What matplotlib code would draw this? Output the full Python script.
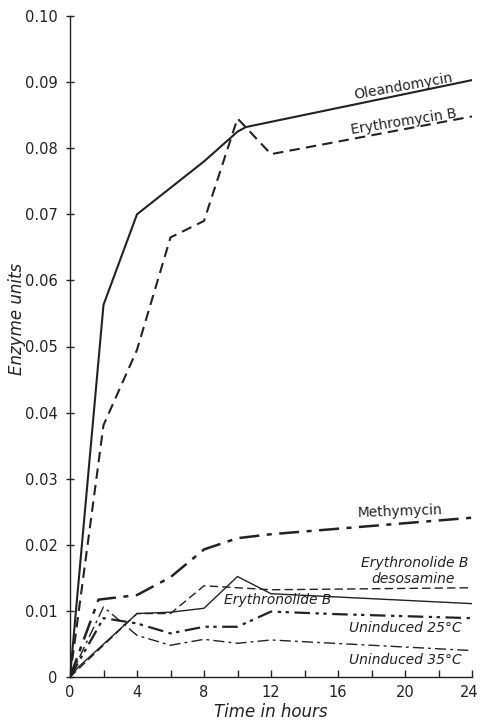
import matplotlib
matplotlib.use("Agg")
import matplotlib.pyplot as plt
import matplotlib.transforms as mtransforms

# ---- data ----
t_ole = [0, 2, 4, 8, 10, 10.5, 24]
ole = [0, 0.0563, 0.0700, 0.0780, 0.0825, 0.0832, 0.0903]

t_ery = [0, 2, 4, 6, 8, 10, 12, 24]
ery = [0, 0.0381, 0.0495, 0.0665, 0.0690, 0.0845, 0.0791, 0.0848]

t_met = [0, 1.7, 4, 6, 8, 10, 12, 24]
met = [0, 0.0117, 0.0124, 0.0151, 0.0193, 0.0210, 0.0216, 0.0241]

t_eb = [0, 0.5, 4, 6, 8, 10, 12, 24]
eb = [0, 0.0015, 0.0096, 0.0098, 0.0104, 0.0152, 0.0126, 0.0111]

t_ebd = [0, 0.5, 4, 6, 8, 12, 24]
ebd = [0, 0.0012, 0.0096, 0.0096, 0.0138, 0.0132, 0.0135]

t_u25 = [0, 2, 4, 6, 8, 10, 12, 16, 24]
u25 = [0, 0.0089, 0.0081, 0.0066, 0.0076, 0.0076, 0.0099, 0.0095, 0.0089]

t_u35 = [0, 2, 4, 6, 8, 10, 12, 24]
u35 = [0, 0.0106, 0.0063, 0.0048, 0.0057, 0.0051, 0.0056, 0.0040]

x_ticks = [0, 4, 8, 12, 16, 20, 24]
x_minor = [2, 6, 10, 14, 18, 22]
y_ticks = [0, 0.01, 0.02, 0.03, 0.04, 0.05, 0.06, 0.07, 0.08, 0.09, 0.10]
y_labels = ["0", "0.01", "0.02", "0.03", "0.04", "0.05", "0.06", "0.07", "0.08", "0.09", "0.10"]

plt.rcParams['font.family'] = ['DejaVu Sans']

fig = plt.figure(figsize=(4.8, 7.22), dpi=100)
ax = fig.add_axes([70/480, 1-677/722, (472-70)/480, (677-16)/722])

c = '#222222'
ax.plot(t_ole, ole, color=c, lw=1.5, ls='-')
ax.plot(t_ery, ery, color=c, lw=1.5, ls=(0, (5, 3)))
ax.plot(t_met, met, color=c, lw=1.8, ls=(0, (8, 3, 2, 3)))
ax.plot(t_eb, eb, color=c, lw=1.0, ls='-')
ax.plot(t_ebd, ebd, color=c, lw=1.0, ls=(0, (6, 3)))
ax.plot(t_u25, u25, color=c, lw=1.6, ls=(0, (7, 2.5, 1.5, 2, 1.5, 2.5)))
ax.plot(t_u35, u35, color=c, lw=1.0, ls=(0, (8, 3, 2, 3)))

ax.set_xlim(0, 24)
ax.set_ylim(0, 0.10)
ax.set_xticks(x_ticks)
ax.set_xticklabels([str(v) for v in x_ticks], fontsize=10.5, color=c)
ax.set_xticks(x_minor, minor=True)
ax.set_yticks(y_ticks)
ax.set_yticklabels(y_labels, fontsize=10.5, color=c)
ax.tick_params(axis='x', which='both', direction='in', length=5, width=1, colors=c, pad=6)
ax.tick_params(axis='y', direction='inout', length=6, width=1, colors=c, pad=6)
for s in ['top', 'right']:
    ax.spines[s].set_visible(False)
for s in ['left', 'bottom']:
    ax.spines[s].set_color(c)
    ax.spines[s].set_linewidth(1.0)

# shift last x tick label slightly left so it fits, as in the reference
lab = ax.get_xticklabels()[-1]
lab.set_transform(lab.get_transform() + mtransforms.ScaledTranslation(-3/100, 0, fig.dpi_scale_trans))

ax.set_xlabel("Time in hours", fontsize=12, color=c, style='italic', labelpad=2)
ax.set_ylabel("Enzyme units", fontsize=12, color=c, style='italic')
ax.yaxis.set_label_coords(-0.11, 0.542)

kw = dict(fontsize=10, color=c, ha='center', va='center')
ax.text(19.9, 0.0894, "Oleandomycin", rotation=10, **kw)
ax.text(19.9, 0.0840, "Erythromycin B", rotation=9, **kw)
ax.text(19.7, 0.0250, "Methymycin", rotation=2, **kw)
ax.text(20.6, 0.0172, "Erythronolide B", style='italic', **kw)
ax.text(20.5, 0.0148, "desosamine", style='italic', **kw)
ax.text(12.4, 0.0116, "Erythronolide B", style='italic', **kw)
ax.text(20.0, 0.0074, "Uninduced 25°C", style='italic', **kw)
ax.text(20.0, 0.0026, "Uninduced 35°C", style='italic', **kw)

fig.savefig("out.png", dpi=100)
